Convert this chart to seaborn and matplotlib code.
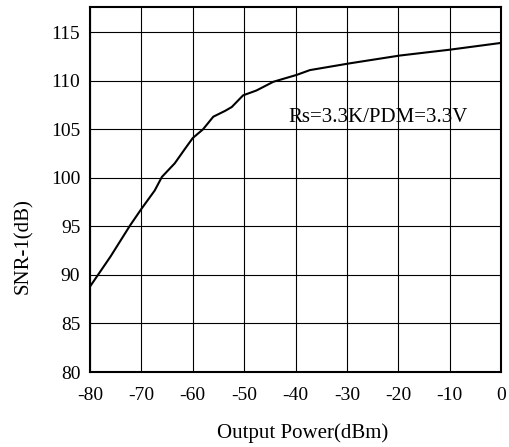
import matplotlib
matplotlib.use("Agg")
import matplotlib.pyplot as plt
import seaborn as sns
import pandas as pd

power_dbm = [-80, -76, -72.2, -70, -67.4, -66, -63.5, -61.5, -60, -58, -56, -53.7, -52.4,
             -50.2, -47.6, -44.3, -39.8, -37.2, -29.4, -19.7, -10, 0]
snr_db = [88.8, 91.9, 95.1, 96.8, 98.7, 100.1, 101.5, 103.0, 104.1, 105.0, 106.3, 106.9, 107.3,
          108.5, 109.0, 109.9, 110.6, 111.1, 111.8, 112.6, 113.2, 113.9]
x_ticks = [-80, -70, -60, -50, -40, -30, -20, -10, 0]
y_ticks = [80, 85, 90, 95, 100, 105, 110, 115]
annotation = "Rs=3.3K/PDM=3.3V"

df = pd.DataFrame({"power": power_dbm, "snr": snr_db})

sns.set_theme(style="white")
plt.rcParams['font.family'] = ['Liberation Serif', 'DejaVu Serif']

fig = plt.figure(figsize=(5.10, 4.47), dpi=100)
ax = fig.add_axes([90/510, 1 - 372/447, 411/510, 365/447])
sns.lineplot(data=df, x="power", y="snr", ax=ax, color="black", linewidth=1.5)

ax.set_xlim(-80, 0)
ax.set_ylim(80, 117.6)
ax.set_xticks(x_ticks)
ax.set_yticks(y_ticks)
ax.set_xticklabels([str(v) for v in x_ticks], fontsize=14)
ax.set_yticklabels([str(v) for v in y_ticks], fontsize=14)
ax.tick_params(axis='x', length=0, pad=11, colors='black')
ax.tick_params(axis='y', length=0, pad=7, colors='black')
ax.grid(True, color='black', linewidth=0.8)
for s in ax.spines.values():
    s.set_color('black')
    s.set_linewidth(1.5)
ax.set_xlabel("Output Power(dBm)", fontsize=15, color='black')
ax.set_ylabel("SNR-1(dB)", fontsize=15, color='black')
ax.xaxis.set_label_coords(0.518, -0.140)
ax.yaxis.set_label_coords(-0.139, 0.346)
ax.text(-23.9, 106.2, annotation, fontsize=15, ha='center', va='center', color='black')

fig.savefig("out.png", dpi=100)
